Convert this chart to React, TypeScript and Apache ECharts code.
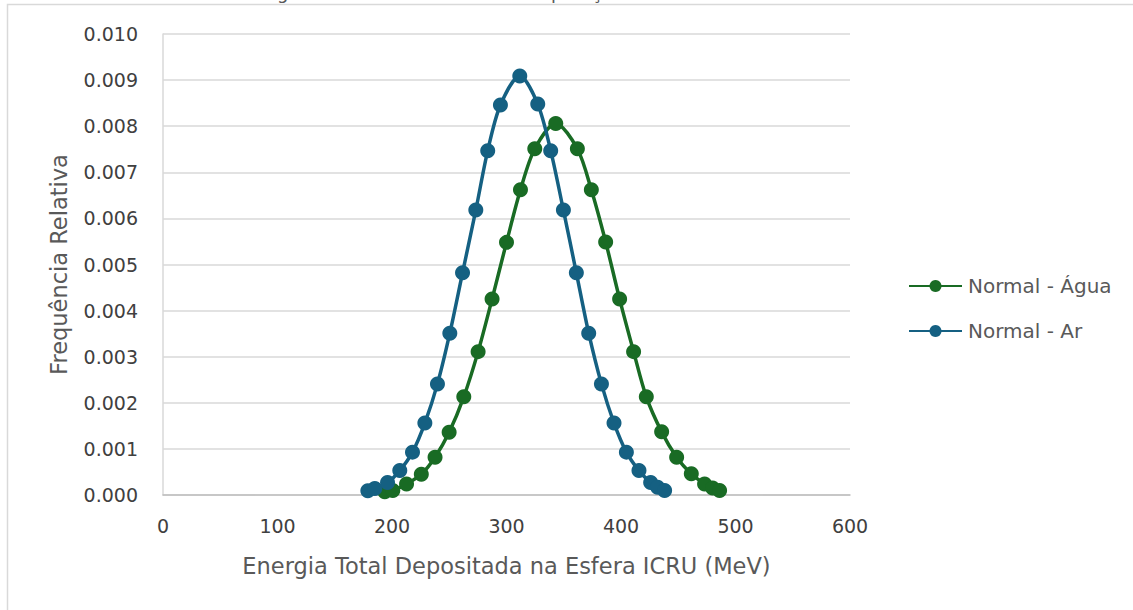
import React, { useEffect, useRef } from "react";
import * as echarts from "echarts";

// Normal - Ar (energy MeV, relative frequency)
const arEnergy = [178.9, 185.0, 196.1, 206.8, 217.9, 228.7, 239.7, 250.5, 261.6, 273.2, 283.6, 294.7, 311.6, 327.3, 338.6, 349.7, 361.0, 371.8, 382.9, 393.9, 404.7, 415.7, 425.9, 432.0, 438.1];
const arFreq = [0.00009, 0.00014, 0.00027, 0.00053, 0.00093, 0.00156, 0.00241, 0.00351, 0.00482, 0.00618, 0.00747, 0.00846, 0.00909, 0.00848, 0.00747, 0.00618, 0.00482, 0.00351, 0.00241, 0.00156, 0.00093, 0.00053, 0.00027, 0.00017, 0.0001];

// Normal - Água
const aguaEnergy = [193.7, 200.7, 212.7, 225.6, 237.6, 249.9, 262.7, 275.2, 287.4, 300.0, 312.2, 324.7, 343.0, 361.9, 374.1, 386.6, 398.8, 411.0, 422.1, 435.5, 448.6, 461.4, 473.0, 480.0, 486.1];
const aguaFreq = [0.00007, 0.0001, 0.00024, 0.00045, 0.00082, 0.00136, 0.00213, 0.00311, 0.00425, 0.00548, 0.00662, 0.00751, 0.00806, 0.00751, 0.00662, 0.00549, 0.00425, 0.00311, 0.00213, 0.00137, 0.00082, 0.00046, 0.00024, 0.00015, 0.0001];

const seriesNames = ["Normal - Água", "Normal - Ar"];
const xTitle = "Energia Total Depositada na Esfera ICRU (MeV)";
const yTitle = "Frequência Relativa";
const chartTitle = "Energia Total na Esfera ICRU - Comparação dos Meios";

const GREEN = "#196B24";
const BLUE = "#156082";
const FONT = "DejaVu Sans, Noto Sans, sans-serif";

export default function App() {
  const ref = useRef<HTMLDivElement>(null);
  useEffect(() => {
    if (!ref.current) return;
    const chart = echarts.init(ref.current, undefined, { renderer: "svg" });
    const agua = aguaEnergy.map((x, i) => [x, aguaFreq[i]]);
    const ar = arEnergy.map((x, i) => [x, arFreq[i]]);
    chart.setOption({
      animation: false,
      backgroundColor: "#ffffff",
      textStyle: { fontFamily: FONT },
      graphic: [
        {
          type: "rect",
          shape: { x: 7.5, y: 4.5, width: 1200, height: 700 },
          style: { fill: "none", stroke: "#d9d9d9", lineWidth: 1.5 },
          silent: true,
        },
        {
          type: "text",
          x: 236,
          y: 1,
          style: {
            text: chartTitle,
            fontFamily: FONT,
            fontSize: 18,
            fill: "#595959",
            verticalAlign: "bottom",
          },
          silent: true,
        },
      ],
      grid: { left: 163, right: 283, top: 34, bottom: 115, containLabel: false },
      legend: {
        orient: "vertical",
        left: 903,
        top: 271,
        itemWidth: 53,
        itemHeight: 15,
        itemGap: 25,
        data: seriesNames,
        textStyle: { color: "#595959", fontSize: 20, fontFamily: FONT, padding: [0, 0, 0, 1] },
      },
      xAxis: {
        type: "value",
        min: 0,
        max: 600,
        interval: 100,
        name: xTitle,
        nameLocation: "middle",
        nameGap: 59,
        nameTextStyle: { color: "#595959", fontSize: 22.5, fontFamily: FONT },
        axisLine: { show: true, lineStyle: { color: "#bfbfbf", width: 1.5 } },
        axisTick: { show: false },
        axisLabel: { color: "#404040", fontSize: 19, margin: 21, fontFamily: FONT },
        splitLine: { show: false },
      },
      yAxis: {
        type: "value",
        min: 0,
        max: 0.01,
        interval: 0.001,
        name: yTitle,
        nameLocation: "middle",
        nameGap: 93,
        nameTextStyle: { color: "#595959", fontSize: 22.5, fontFamily: FONT },
        axisLine: { show: true, lineStyle: { color: "#d9d9d9", width: 1.5 } },
        axisTick: { show: false },
        axisLabel: {
          color: "#404040",
          fontSize: 19,
          margin: 25,
          fontFamily: FONT,
          formatter: (v: number) => v.toFixed(3),
        },
        splitLine: { show: true, lineStyle: { color: "#d9d9d9", width: 1.5 } },
      },
      series: [
        {
          name: seriesNames[0],
          type: "line",
          data: agua,
          smooth: 0.3,
          symbol: "circle",
          symbolSize: 15,
          itemStyle: { color: GREEN },
          lineStyle: { color: GREEN, width: 3.5 },
        },
        {
          name: seriesNames[1],
          type: "line",
          data: ar,
          smooth: 0.3,
          symbol: "circle",
          symbolSize: 15,
          itemStyle: { color: BLUE },
          lineStyle: { color: BLUE, width: 3.5 },
        },
      ],
    });
    return () => chart.dispose();
  }, []);
  return (
    <div
      ref={ref}
      style={{ position: "absolute", left: 0, top: 0, width: 1133, height: 610 }}
    />
  );
}
